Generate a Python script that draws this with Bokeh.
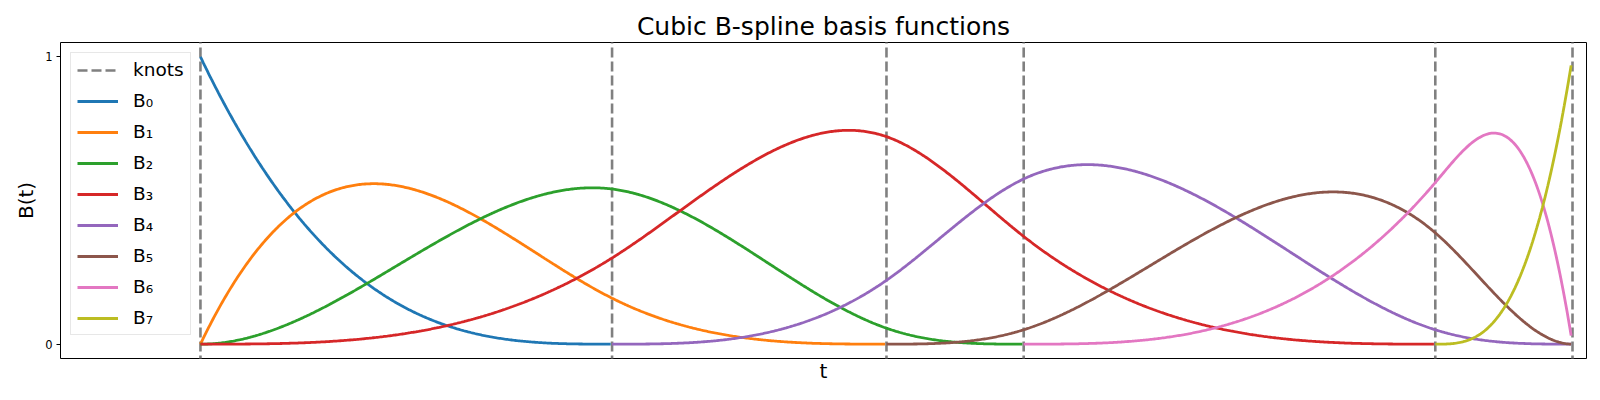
import numpy as np
from bokeh.plotting import figure
from bokeh.models import FixedTicker, Range1d, Legend, LegendItem, ColumnDataSource
from bokeh.embed import file_html
from bokeh.resources import INLINE

# ---- data ----
knots = [0.0, 0.3, 0.5, 0.6, 0.9, 1.0]
degree = 3
n_samples = 1000
names = ["B\u2080", "B\u2081", "B\u2082", "B\u2083", "B\u2084", "B\u2085", "B\u2086", "B\u2087"]
colors = ["#1f77b4", "#ff7f0e", "#2ca02c", "#d62728", "#9467bd", "#8c564b", "#e377c2", "#bcbd22"]

# clamped knot vector
full = np.r_[[knots[0]] * degree, knots, [knots[-1]] * degree]
t = np.linspace(knots[0], knots[-1], n_samples, endpoint=False)


def basis(i, k, x):
    if k == 0:
        return ((full[i] <= x) & (x < full[i + 1])).astype(float)
    out = np.zeros_like(x)
    d1 = full[i + k] - full[i]
    d2 = full[i + k + 1] - full[i + 1]
    if d1 > 0:
        out += (x - full[i]) / d1 * basis(i, k - 1, x)
    if d2 > 0:
        out += (full[i + k + 1] - x) / d2 * basis(i + 1, k - 1, x)
    return out


FONT = "DejaVu Sans"
p = figure(frame_width=1526, frame_height=316,
           x_range=Range1d(-0.102, 1.0102), y_range=Range1d(-0.05, 1.05),
           output_backend="svg", toolbar_location=None,
           min_border_left=60, min_border_right=6, min_border_top=42, min_border_bottom=34)

p.title.text = "Cubic B-spline basis functions"
p.title.align = "center"
p.title.text_font = FONT
p.title.text_font_size = "25px"
p.title.text_font_style = "normal"
p.title.text_color = "black"
p.title.standoff = 4

p.grid.visible = False
p.outline_line_color = "black"
p.outline_line_alpha = 1
p.outline_line_width = 1

# y axis
p.yaxis.ticker = FixedTicker(ticks=[0, 1])
p.yaxis.major_label_text_font = FONT
p.yaxis.major_label_text_font_size = "11.5px"
p.yaxis.major_label_text_color = "black"
p.yaxis.major_label_standoff = 4
p.yaxis.major_tick_out = 4
p.yaxis.major_tick_in = 0
p.yaxis.major_tick_line_color = "black"
p.yaxis.minor_tick_line_color = None
p.yaxis.axis_line_color = None
p.yaxis.axis_label = "B(t)"
p.yaxis.axis_label_text_font = FONT
p.yaxis.axis_label_text_font_size = "20px"
p.yaxis.axis_label_text_font_style = "normal"
p.yaxis.axis_label_text_color = "black"
p.yaxis.axis_label_standoff = 4

# x axis
p.xaxis.ticker = FixedTicker(ticks=[])
p.xaxis.major_tick_line_color = None
p.xaxis.minor_tick_line_color = None
p.xaxis.major_label_text_font_size = "0px"
p.xaxis.axis_line_color = None
p.xaxis.axis_label = "t"
p.xaxis.axis_label_text_font = FONT
p.xaxis.axis_label_text_font_size = "20px"
p.xaxis.axis_label_text_font_style = "normal"
p.xaxis.axis_label_text_color = "black"
p.xaxis.axis_label_standoff = 0

items = []
ksrc = ColumnDataSource(dict(x0=knots, x1=knots, y0=[-1] * len(knots), y1=[2] * len(knots)))
kr = p.segment("x0", "y0", "x1", "y1", source=ksrc, line_color="#808080",
               line_width=2.6, line_dash="10 4")
items.append(LegendItem(label="knots", renderers=[kr]))

for i in range(len(names)):
    y = basis(i, degree, t)
    m = (t >= full[i]) & (t < full[i + degree + 1])
    r = p.line(t[m], y[m], line_color=colors[i], line_width=2.8)
    items.append(LegendItem(label=names[i], renderers=[r]))

legend = Legend(items=items, location="top_left")
legend.label_text_font = FONT
legend.label_text_font_size = "18.5px"
legend.label_text_color = "black"
legend.glyph_width = 41
legend.glyph_height = 20
legend.label_height = 20
legend.label_standoff = 15
legend.spacing = 10
legend.padding = 6
legend.margin = 10
legend.border_line_color = "#d0d0d0"
legend.border_line_width = 1
legend.background_fill_alpha = 0.8
p.add_layout(legend)

open("out.html", "w").write(file_html(p, INLINE))
